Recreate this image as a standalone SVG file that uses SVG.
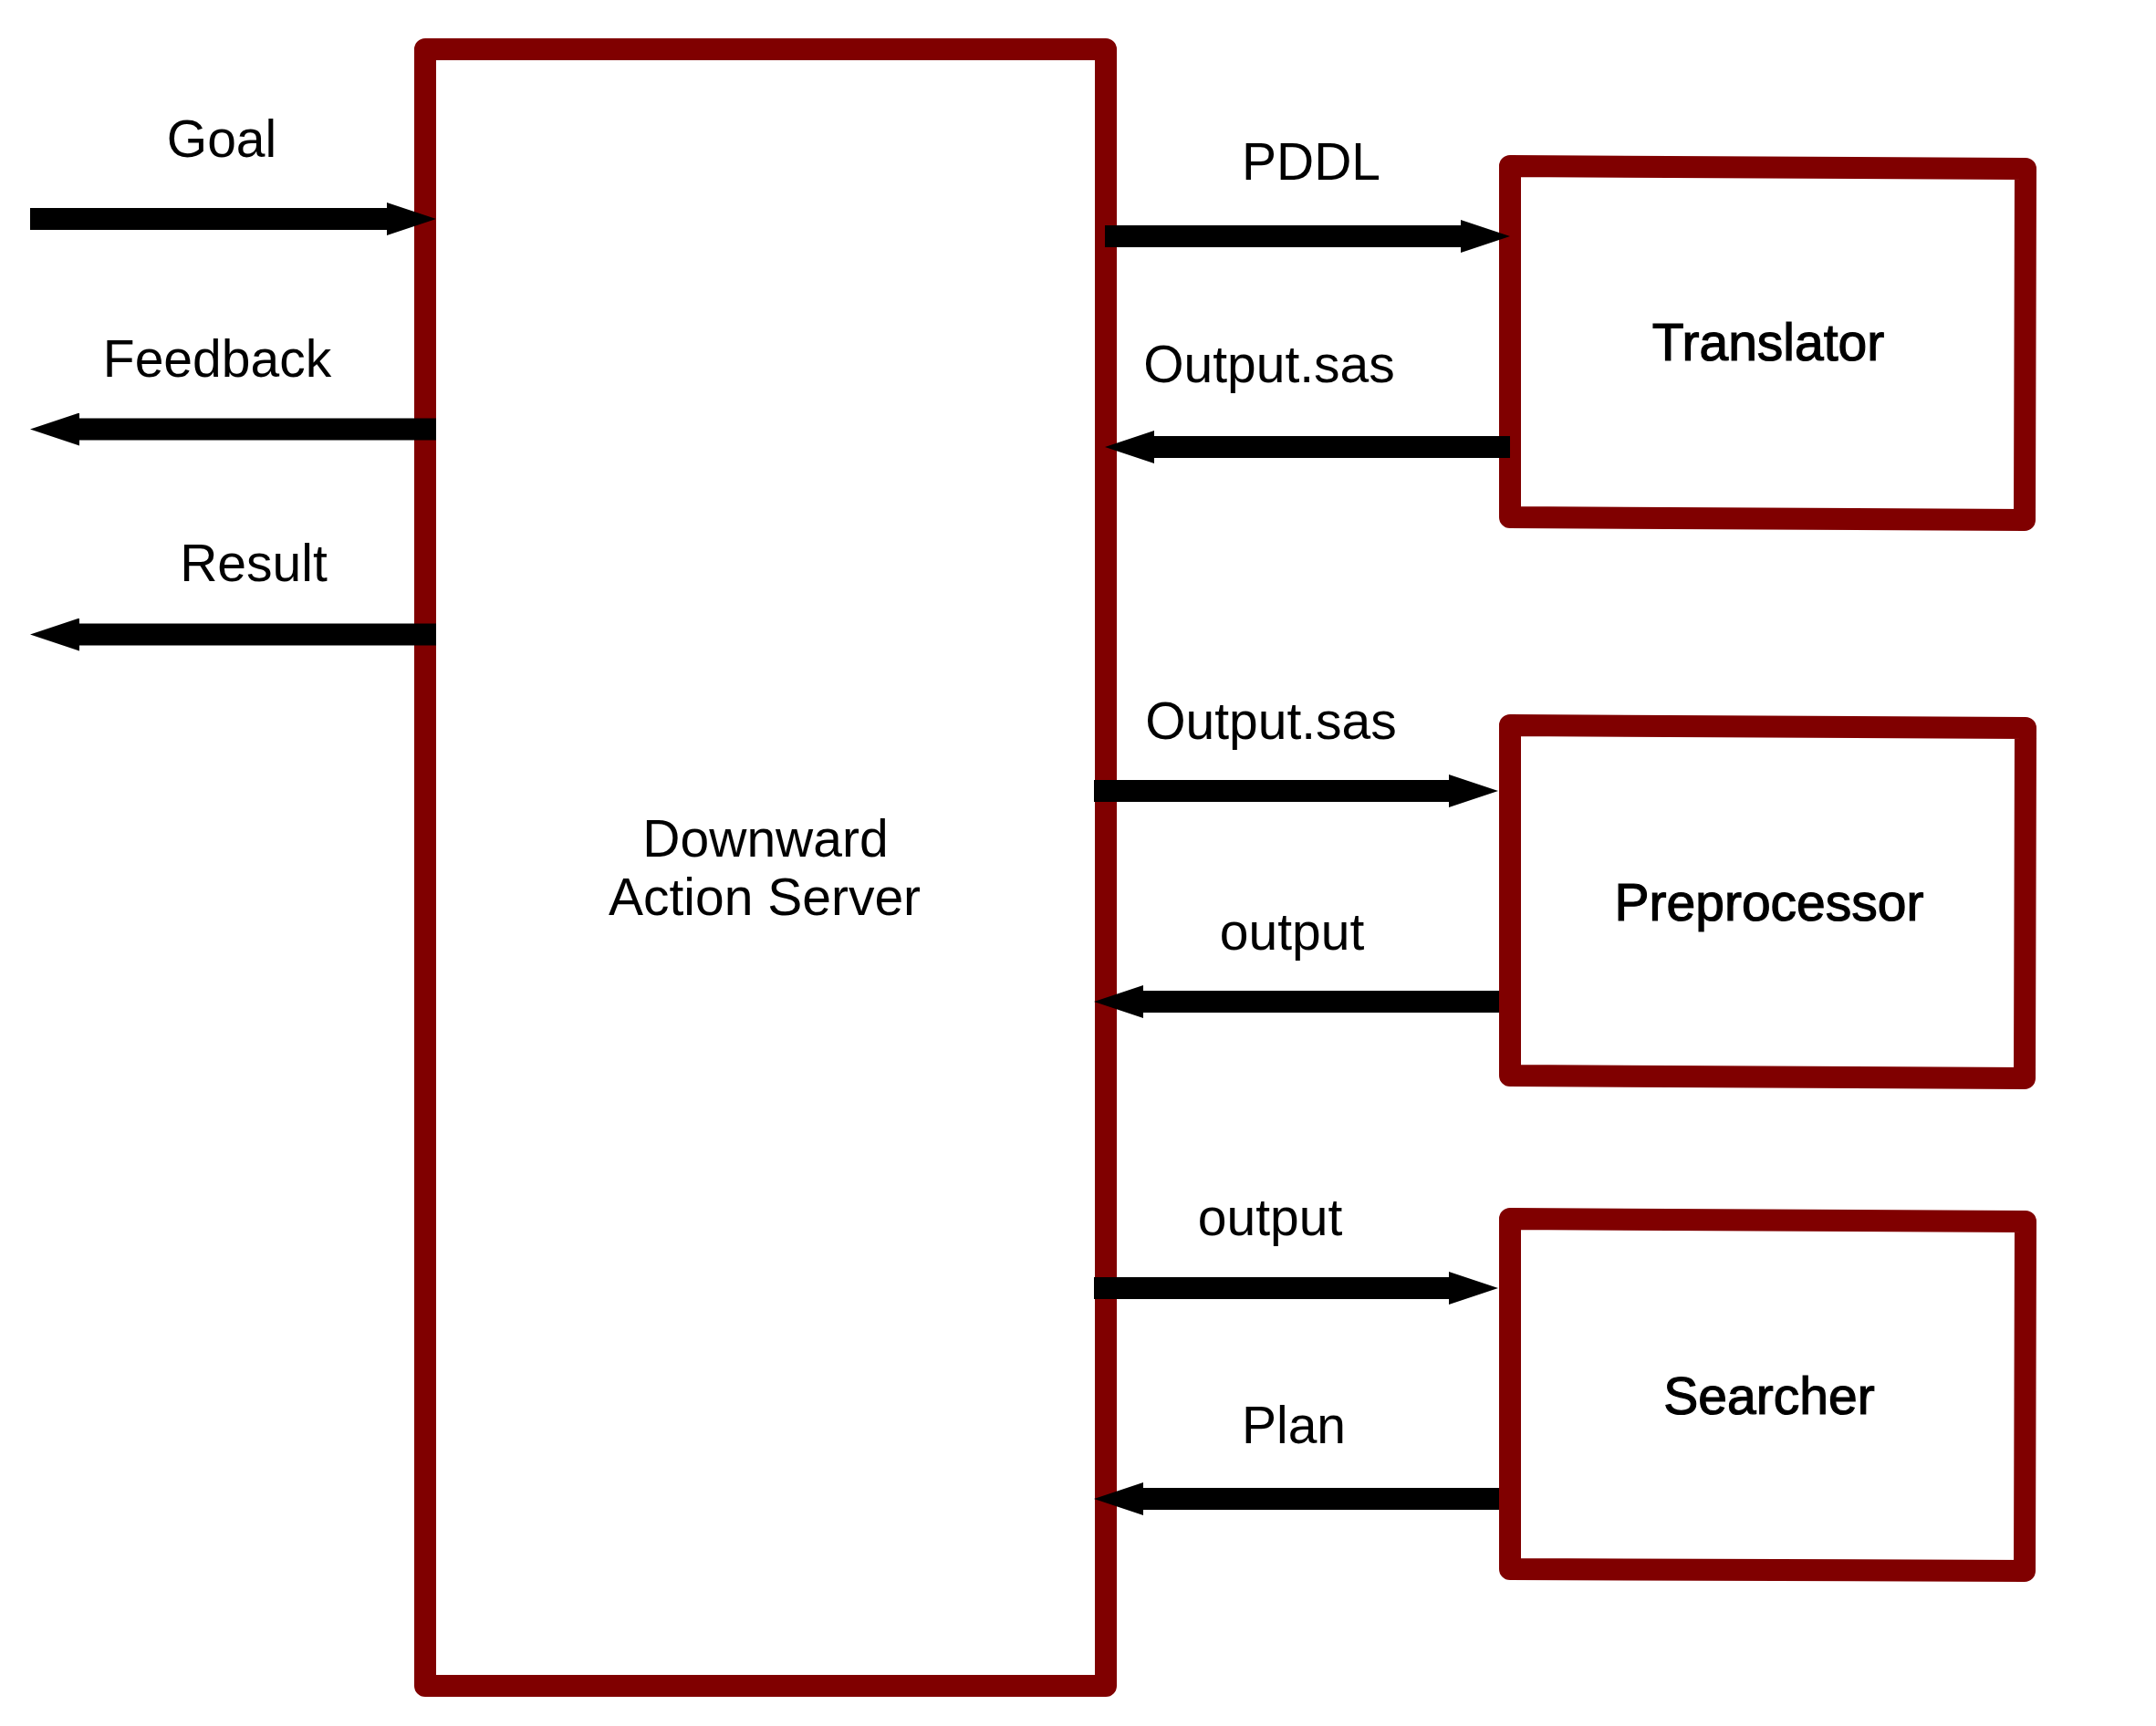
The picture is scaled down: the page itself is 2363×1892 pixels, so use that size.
<svg xmlns="http://www.w3.org/2000/svg" width="2363" height="1892" viewBox="0 0 2363 1892">
<style>
  .box { fill: #ffffff; stroke: #800000; stroke-width: 24; stroke-linejoin: round; }
  .lbl { font-family: "Liberation Sans", Arial, sans-serif; font-size: 57px; fill: #000000; text-anchor: middle; }
  .nlbl { stroke: #000000; stroke-width: 1.2; }
  .conn { stroke: #000000; stroke-width: 24; fill: none; marker-end: url(#head); }
</style>
<defs>
  <marker id="head" viewBox="0 0 54 36" refX="0" refY="18" markerWidth="54" markerHeight="36" markerUnits="userSpaceOnUse" orient="auto">
    <path d="M0,0 L54,18 L0,36 Z" fill="#000000"/>
  </marker>
</defs>
<rect x="0" y="0" width="2363" height="1892" fill="#ffffff"/>

<g id="server">
  <rect class="box" x="466" y="54" width="746" height="1794"/>
  <text class="lbl" x="839" y="939">Downward</text>
  <text class="lbl" x="838" y="1003">Action Server</text>
</g>

<g id="translator">
  <path class="box" d="M1655,182 L2220,185 L2219,570 L1655,567 Z"/>
  <text class="lbl nlbl" x="1938" y="395">Translator</text>
</g>

<g id="preprocessor">
  <path class="box" d="M1655,795 L2220,798 L2219,1182 L1655,1179 Z"/>
  <text class="lbl nlbl" x="1939" y="1009">Preprocessor</text>
</g>

<g id="searcher">
  <path class="box" d="M1655,1336 L2220,1339 L2219,1722 L1655,1720 Z"/>
  <text class="lbl nlbl" x="1939" y="1550">Searcher</text>
</g>

<g id="connectors">
  <line class="conn" x1="33" y1="240" x2="424" y2="240"/>
  <line class="conn" x1="478" y1="470.5" x2="87" y2="470.5"/>
  <line class="conn" x1="478" y1="695.5" x2="87" y2="695.5"/>
  <line class="conn" x1="1211" y1="259" x2="1601" y2="259"/>
  <line class="conn" x1="1655" y1="490" x2="1265" y2="490"/>
  <line class="conn" x1="1199" y1="867" x2="1588" y2="867"/>
  <line class="conn" x1="1643" y1="1098" x2="1253" y2="1098"/>
  <line class="conn" x1="1199" y1="1412" x2="1588" y2="1412"/>
  <line class="conn" x1="1643" y1="1643" x2="1253" y2="1643"/>
</g>

<g id="labels">
  <text class="lbl" x="243" y="172">Goal</text>
  <text class="lbl" x="238" y="413">Feedback</text>
  <text class="lbl" x="278" y="637">Result</text>
  <text class="lbl" x="1437" y="197">PDDL</text>
  <text class="lbl" x="1391" y="419">Output.sas</text>
  <text class="lbl" x="1393" y="810">Output.sas</text>
  <text class="lbl" x="1416" y="1041">output</text>
  <text class="lbl" x="1392" y="1354">output</text>
  <text class="lbl" x="1418" y="1582">Plan</text>
</g>
</svg>
